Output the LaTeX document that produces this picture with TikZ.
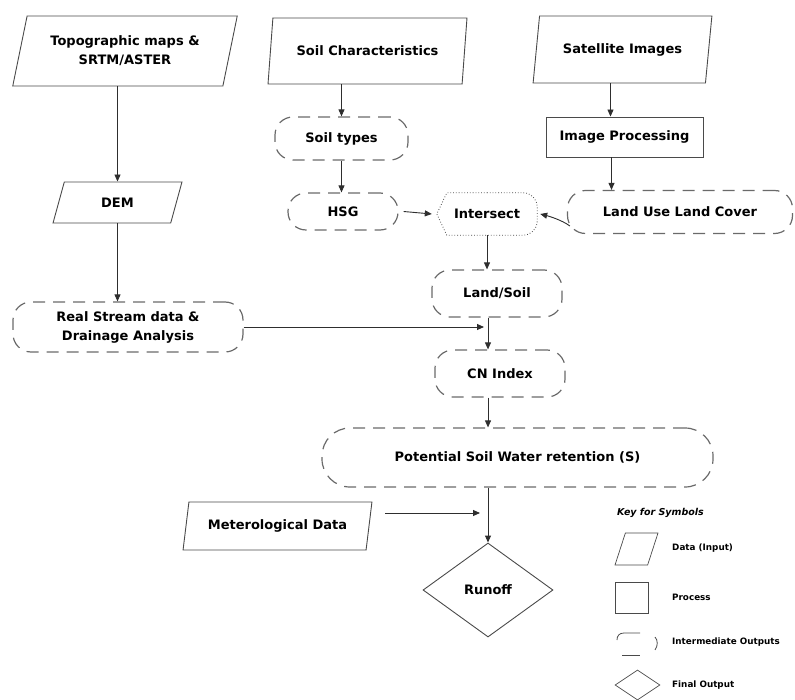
\documentclass[tikz,border=0pt]{standalone}
\usepackage{fontspec}
\setmainfont{DejaVu Sans}
\usepackage{tikz}
\usetikzlibrary{shapes.geometric, arrows.meta, positioning}

\definecolor{linegray}{HTML}{4A4A4A}
\definecolor{dashgray}{HTML}{6A6A6A}
\definecolor{arrowgray}{HTML}{2E2E2E}

\begin{document}
\begin{tikzpicture}[x=1pt, y=-1pt, >={Triangle[length=7pt, width=6pt]},
    every node/.style={font=\fontsize{13}{19}\selectfont\bfseries, align=center, inner sep=0pt},
    datain/.style={trapezium, trapezium left angle=70, trapezium right angle=110,
        trapezium stretches=true, draw=linegray, line width=0.9pt},
    process/.style={rectangle, draw=linegray, line width=0.9pt},
    interout/.style={rectangle, rounded corners=18pt, draw=dashgray, line width=1.2pt,
        dash pattern=on 12pt off 8pt},
    final/.style={diamond, draw=linegray, line width=0.9pt},
    flow/.style={->, line width=0.9pt, draw=arrowgray},
    keytext/.style={font=\fontsize{8.8}{10}\selectfont\bfseries, anchor=west}]
    \useasboundingbox (0,0) rectangle (795,700);

    % Input data
    \node[datain, minimum width=225pt, minimum height=70pt] (Topo) at (125,51) {Topographic maps \&\\SRTM/ASTER};
    \node[datain, minimum width=199pt, minimum height=66pt] (Soil) at (367.5,51) {Soil Characteristics};
    \node[datain, minimum width=179pt, minimum height=67pt] (Sat) at (622.5,49.5) {Satellite Images};
    \node[datain, minimum width=129pt, minimum height=41pt] (DEM) at (117.5,202.5) {DEM};
    \node[datain, minimum width=189pt, minimum height=48pt] (Met) at (277.5,526) {Meterological Data};

    % Processing
    \node[process, minimum width=157pt, minimum height=40pt] (ImgProc) at (624.5,137) {Image Processing};

    % Intermediate outputs
    \node[interout, minimum width=133pt, minimum height=43pt] (SoilTypes) at (341.5,138.5) {Soil types};
    \node[interout, minimum width=110pt, minimum height=37pt] (HSG) at (343,211.5) {HSG};
    \node[interout, minimum width=225pt, minimum height=43pt] (LULC) at (680,212) {Land Use Land Cover};
    \node[interout, minimum width=230pt, minimum height=50pt] (Stream) at (128,327) {Real Stream data \&\\Drainage Analysis};
    \node[interout, minimum width=130pt, minimum height=47pt] (LandSoil) at (497,293.5) {Land/Soil};
    \node[interout, minimum width=130pt, minimum height=47pt] (CN) at (500,373.5) {CN Index};
    \node[interout, minimum width=391pt, minimum height=59pt, rounded corners=28pt] (Potential) at (517.5,457.5) {Potential Soil Water retention (S)};

    % Overlay step
    \node[minimum width=100pt, minimum height=42pt] (Intersect) at (487,214) {Intersect};
    \draw[linegray, line width=0.8pt, dotted] (Intersect.north) [rounded corners=14pt] -- (Intersect.north east)
        -- (Intersect.south east) [sharp corners] -- ([xshift=10pt]Intersect.south west)
        -- (Intersect.west) -- ([xshift=10pt]Intersect.north west) -- cycle;

    % Final output
    \node[final, minimum width=130pt, minimum height=94pt] (Runoff) at (488,590) {Runoff};

    % Junctions on the main column
    \coordinate (streamin) at (484,327);
    \coordinate (metin) at (480,513);

    % Flow
    \draw[flow] (DEM.north |- Topo.south) -- (DEM.north);
    \draw[flow] (DEM.south) -- (DEM.south |- Stream.north);
    \draw[flow] (SoilTypes.north |- Soil.south) -- (SoilTypes.north);
    \draw[flow] (SoilTypes.south) -- (SoilTypes.south |- HSG.north);
    \draw[flow] ([xshift=-14pt]ImgProc.north |- Sat.south) -- ([xshift=-14pt]ImgProc.north);
    \draw[flow] ([xshift=-13pt]ImgProc.south) -- ([xshift=-13pt]ImgProc.south |- LULC.north);
    \draw[flow] ([xshift=5pt]HSG.east) -- ([xshift=-5pt]Intersect.west);
    \draw[flow] ([shift={(3,14)}]LULC.west) .. controls +(-8,-6) and +(8,2) .. ([xshift=3pt]Intersect.east);
    \draw[flow] (Intersect.south) -- (Intersect.south |- LandSoil.north);
    \draw[flow] (Stream.east) -- (streamin);
    \draw[flow] (Runoff |- LandSoil.south) -- (Runoff |- CN.north);
    \draw[flow] (Runoff |- CN.south) -- (Runoff |- Potential.north);
    \draw[flow] (Runoff |- Potential.south) -- (Runoff.north);
    \draw[flow] ([xshift=16pt]Met.east |- metin) -- (metin);

    % Key for symbols
    \node[font=\fontsize{9.5}{11}\selectfont\bfseries\itshape, anchor=west] (keytitle) at (617,513) {Key for Symbols};
    \node[datain, trapezium left angle=65, trapezium right angle=115, minimum width=43pt, minimum height=32pt, line width=0.7pt, inner sep=1pt] (keydata) at (636.5,549) {};
    \node[keytext] (keydatatxt) at (672,548) {Data (Input)};
    \node[process, minimum width=33pt, minimum height=31pt, line width=0.7pt, inner sep=1pt] (keyproc) at (631.5,597.5) {};
    \node[keytext] (keyproctxt) at (672,597) {Process};
    \draw[linegray, line width=0.8pt] (640,633) -- (624,633) .. controls (619,633) and (617,636) .. (617,640);
    \draw[linegray, line width=0.8pt] (622,655) -- (640,655);
    \draw[linegray, line width=0.8pt] (655,637) .. controls (658,640) and (658,646) .. (655,650);
    \node[keytext] (keyintertxt) at (672,642) {Intermediate Outputs};
    \node[final, minimum width=45pt, minimum height=30pt, line width=0.7pt, inner sep=1pt] (keyfinal) at (637.5,685) {};
    \node[keytext] (keyfinaltxt) at (672,685) {Final Output};
\end{tikzpicture}
\end{document}
